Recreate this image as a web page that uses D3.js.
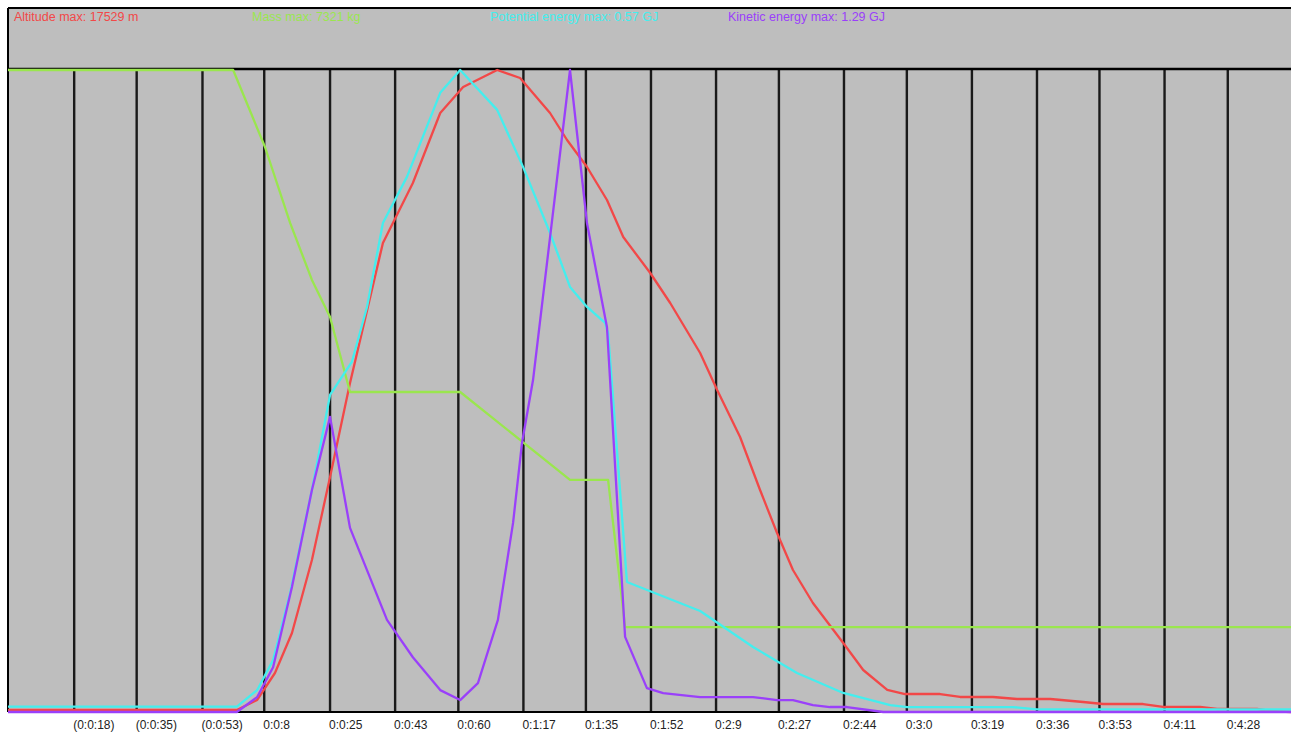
<!DOCTYPE html>
<html>
<head>
<meta charset="utf-8">
<script src="https://cdn.jsdelivr.net/npm/d3@7"></script>
<style>
  html, body { margin: 0; padding: 0; background: #ffffff; }
  svg { display: block; }
  text { font-family: "Liberation Sans", Arial, sans-serif; }
</style>
</head>
<body>
<svg id="chart" width="1291" height="736"></svg>
<script>
// ---------- data (time in seconds) ----------
const tickTimes = [-44.1, -27.2, -9.4, 7.3, 25.1, 42.7, 59.8, 77.4, 94.3, 111.9, 129.5, 146.5, 164.1, 181.1, 198.7, 216.3, 233.2, 250.8, 267.9];
const tickLabels = ["(0:0:18)", "(0:0:35)", "(0:0:53)", "0:0:8", "0:0:25", "0:0:43", "0:0:60", "0:1:17", "0:1:35", "0:1:52", "0:2:9", "0:2:27", "0:2:44", "0:3:0", "0:3:19", "0:3:36", "0:3:53", "0:4:11", "0:4:28"];

// Altitude (m)
const altTime = [-62, -0.1, 5.4, 10.2, 14.8, 20.2, 25.1, 30.5, 39.4, 47.5, 54.9, 61.1, 70.3, 76.5, 84.6, 89.2, 94.6, 100.0, 104.4, 111.7, 117.1, 125.2, 129.8, 136.0, 141.4, 146.0, 150.3, 155.7, 163.9, 169.3, 175.8, 180.6, 190.1, 195.5, 204.4, 210.9, 219.9, 228.8, 234.2, 245.0, 250.4, 260.4, 265.0, 275.8, 279.4, 285.0];
const altValue = [55, 55, 328, 1065, 2157, 4150, 6416, 8983, 12806, 14444, 16355, 17065, 17529, 17311, 16355, 15618, 14881, 13980, 12969, 11986, 11167, 9802, 8792, 7509, 6061, 4887, 3877, 2976, 1884, 1147, 601, 491, 491, 410, 410, 355, 355, 273, 218, 218, 137, 137, 82, 82, 27, 0];

// Mass (kg)
const massTime = [-62, -1.1, 7.5, 14.3, 20.2, 25.1, 30.5, 60.3, 90.0, 100.3, 104.9, 285.0];
const massValue = [7321, 7321, 6443, 5577, 4927, 4505, 3649, 3649, 2646, 2646, 969, 969];

// Potential energy (GJ)
const peTime = [-62, -0.1, 5.4, 9.7, 14.3, 20.2, 25.1, 31.0, 35.1, 39.4, 45.9, 54.9, 60.3, 70.3, 77.3, 84.6, 90.0, 94.6, 99.5, 100.3, 105.4, 125.2, 139.5, 146.8, 151.4, 163.9, 176.6, 181.2, 209.8, 216.3, 285.0];
const peValue = [0.0047, 0.0047, 0.0195, 0.0462, 0.1057, 0.1971, 0.2815, 0.3108, 0.3596, 0.4342, 0.4751, 0.5497, 0.5700, 0.5346, 0.4840, 0.4253, 0.3774, 0.3596, 0.3454, 0.3366, 0.1154, 0.0897, 0.0577, 0.0435, 0.0346, 0.0169, 0.0062, 0.0044, 0.0044, 0.0024, 0.0022];

// Kinetic energy (GJ)
const keTime = [-62, -0.1, 5.4, 9.7, 14.8, 20.2, 25.1, 30.5, 40.5, 47.5, 54.9, 60.3, 65.1, 70.5, 74.6, 77.0, 80.0, 90.0, 94.6, 100.0, 104.9, 110.8, 115.2, 125.2, 139.5, 146.0, 150.3, 155.7, 160.3, 164.9, 174.7, 285.0];
const keValue = [0, 0, 0.030, 0.090, 0.251, 0.446, 0.593, 0.370, 0.185, 0.110, 0.044, 0.024, 0.058, 0.185, 0.380, 0.540, 0.667, 1.290, 0.982, 0.773, 0.151, 0.048, 0.038, 0.030, 0.030, 0.024, 0.024, 0.014, 0.010, 0.010, 0, 0];

const seriesNames = ["Altitude max: 17529 m", "Mass max: 7321 kg", "Potential energy max: 0.57 GJ", "Kinetic energy max: 1.29 GJ"];
const seriesMax = [17529, 7321, 0.57, 1.29];
const seriesColors = ["#f24848", "#9ae64e", "#44eeee", "#9a40fa"];

// ---------- chart ----------
const plot = { left: 8, right: 1291, top: 8, headerBottom: 69, bottom: 712 };
const svg = d3.select("#chart");

const x = d3.scaleLinear().domain([-62, 285]).range([plot.left, plot.right]);

svg.append("rect")
  .attr("x", plot.left).attr("y", plot.top)
  .attr("width", plot.right - plot.left).attr("height", plot.bottom - plot.top)
  .attr("fill", "#bebebe");

// vertical grid lines
svg.append("g").selectAll("line").data(tickTimes).join("line")
  .attr("x1", d => x(d)).attr("x2", d => x(d))
  .attr("y1", plot.headerBottom).attr("y2", plot.bottom)
  .attr("stroke", "#1a1a1a").attr("stroke-width", 2.4);

// frame lines
svg.append("line").attr("x1", plot.left).attr("x2", plot.right).attr("y1", plot.top).attr("y2", plot.top)
  .attr("stroke", "#000").attr("stroke-width", 2);
svg.append("line").attr("x1", plot.left).attr("x2", plot.left).attr("y1", plot.top).attr("y2", plot.bottom)
  .attr("stroke", "#000").attr("stroke-width", 2);
svg.append("line").attr("x1", plot.left).attr("x2", plot.right).attr("y1", plot.headerBottom).attr("y2", plot.headerBottom)
  .attr("stroke", "#000").attr("stroke-width", 2.5);
svg.append("line").attr("x1", plot.left).attr("x2", plot.right).attr("y1", plot.bottom).attr("y2", plot.bottom)
  .attr("stroke", "#000").attr("stroke-width", 2);

// x labels
svg.append("g").selectAll("text").data(tickTimes).join("text")
  .attr("x", d => x(d) - 1).attr("y", 729)
  .attr("font-size", 12).attr("fill", "#222")
  .text((d, i) => tickLabels[i]);

// series
const series = [
  { t: altTime, v: altValue },
  { t: massTime, v: massValue },
  { t: peTime, v: peValue },
  { t: keTime, v: keValue }
];

series.forEach((s, i) => {
  const y = d3.scaleLinear().domain([0, seriesMax[i]]).range([plot.bottom, 70]);
  const pts = s.t.map((t, j) => [t, s.v[j]]);
  const line = d3.line().x(d => x(d[0])).y(d => y(d[1]));
  svg.append("path").datum(pts)
    .attr("d", line)
    .attr("fill", "none")
    .attr("stroke", seriesColors[i])
    .attr("stroke-width", 2.3)
    .attr("stroke-linejoin", "round");
});

// header labels
const headerX = [14, 252, 490, 728];
svg.append("g").selectAll("text").data(seriesNames).join("text")
  .attr("x", (d, i) => headerX[i]).attr("y", 21)
  .attr("font-size", 12.5)
  .attr("fill", (d, i) => seriesColors[i])
  .text(d => d);
</script>
</body>
</html>
